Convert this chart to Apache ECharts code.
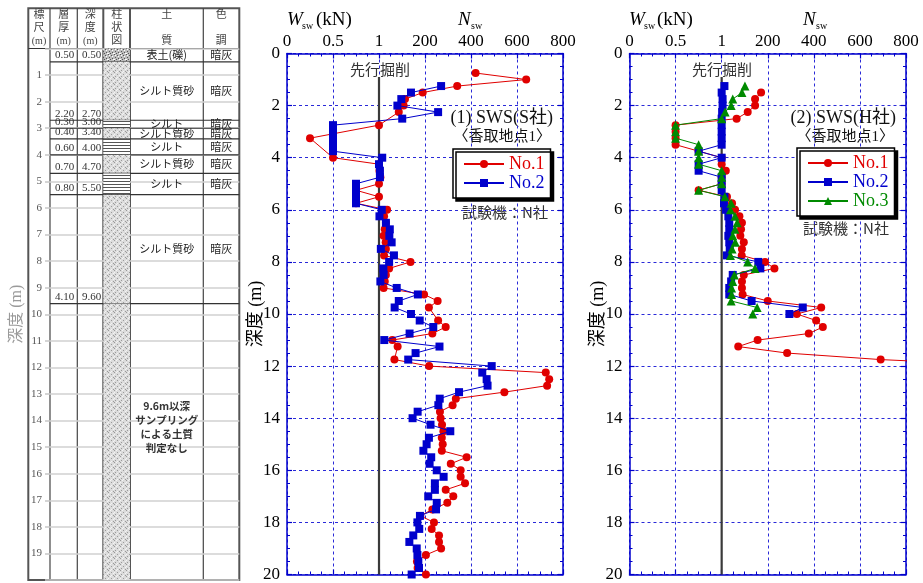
<!DOCTYPE html>
<html><head><meta charset="utf-8">
<script src="https://cdn.jsdelivr.net/npm/echarts@6/dist/echarts.min.js"></script>
<style>html,body{margin:0;padding:0;background:#fff}#c{width:923px;height:583px}</style>
</head><body><div id="c"></div>
<script>
// ---------------- DATA ----------------
// SWS rows: [depth (m), Wsw (kN), Nsw]; Wsw<1 => penetration under static load, else Nsw (half-turns/m)
const xTickLabels = ['0', '0.5', '1', '200', '400', '600', '800'];
const depthTicks = [0, 2, 4, 6, 8, 10, 12, 14, 16, 18, 20];

const S_No1 = [[0.75,1,420],[1.0,1,640],[1.25,1,340],[1.5,1,190],[1.75,1,113],[2.0,1,107],[2.25,1,86],[2.75,1,0],[3.25,0.25,0],[4.0,0.5,0],[4.25,1,0],[4.5,1,2],[4.75,1,6],[5.0,1,0],[5.25,0.75,0],[5.5,1,0],[5.75,0.75,0],[6.0,1,35],[6.25,1,22],[6.5,1,30],[6.75,1,25],[7.0,1,20],[7.25,1,29],[7.5,1,30],[7.75,1,22],[8.0,1,137],[8.25,1,44],[8.5,1,30],[8.75,1,25],[9.0,1,20],[9.25,1,196],[9.5,1,255],[9.75,1,217],[10.25,1,257],[10.5,1,290],[10.75,1,232],[11.0,1,58],[11.25,1,81],[11.75,1,67],[12.0,1,218],[12.25,1,725],[12.5,1,740],[12.75,1,731],[13.0,1,545],[13.25,1,334],[13.5,1,320],[13.75,1,265],[14.0,1,268],[14.25,1,274],[14.5,1,280],[14.75,1,273],[15.0,1,277],[15.25,1,273],[15.5,1,381],[15.75,1,312],[16.0,1,355],[16.25,1,355],[16.5,1,374],[16.75,1,290],[17.0,1,323],[17.25,1,297],[17.5,1,232],[17.75,1,180],[18.0,1,239],[18.25,1,229],[18.5,1,261],[18.75,1,261],[19.0,1,270],[19.25,1,204],[19.5,1,165],[19.75,1,168],[20.0,1,204]];
const S_No2 = [[1.25,1,270],[1.5,1,139],[1.75,1,97],[2.0,1,80],[2.25,1,257],[2.5,1,101],[2.75,0.5,0],[3.0,0.5,0],[3.25,0.5,0],[3.5,0.5,0],[3.75,0.5,0],[4.0,1,14],[4.25,1,0],[4.5,1,4],[4.75,1,4],[5.0,0.75,0],[5.25,0.75,0],[5.5,0.75,0],[5.75,0.75,0],[6.0,1,12],[6.25,1,2],[6.5,1,30],[6.75,1,47],[7.0,1,45],[7.25,1,55],[7.5,1,8],[7.75,1,65],[8.0,1,44],[8.25,1,19],[8.5,1,20],[8.75,1,6],[9.0,1,77],[9.25,1,169],[9.5,1,86],[9.75,1,68],[10.0,1,139],[10.25,1,177],[10.5,1,236],[10.75,1,133],[11.0,1,23],[11.25,1,263],[11.5,1,159],[11.75,1,127],[12.0,1,490],[12.25,1,449],[12.5,1,468],[12.75,1,472],[13.0,1,348],[13.25,1,264],[13.5,1,258],[13.75,1,168],[14.0,1,146],[14.25,1,224],[14.5,1,310],[14.75,1,217],[15.0,1,207],[15.25,1,193],[15.5,1,227],[15.75,1,220],[16.0,1,251],[16.25,1,281],[16.5,1,243],[16.75,1,243],[17.0,1,214],[17.25,1,251],[17.5,1,248],[17.75,1,178],[18.0,1,167],[18.25,1,175],[18.5,1,149],[18.75,1,132],[19.0,1,164],[19.25,1,167],[19.5,1,171],[19.75,1,174],[20.0,1,142]];

const H_No1 = [[1.5,1,171],[1.75,1,145],[2.0,1,145],[2.25,1,113],[2.5,1,65],[2.75,0.5,0],[3.0,0.5,0],[3.25,0.5,0],[3.5,0.5,0],[3.75,0.75,0],[4.0,1,0],[4.25,1,0],[4.5,1,18],[4.75,1,0],[5.0,1,0],[5.25,0.75,0],[5.5,1,23],[5.75,1,45],[6.0,1,58],[6.25,1,77],[6.5,1,88],[6.75,1,84],[7.0,1,81],[7.25,1,96],[7.5,1,88],[7.75,1,87],[8.0,1,188],[8.25,1,229],[8.5,1,96],[8.75,1,88],[9.0,1,88],[9.25,1,91],[9.5,1,200],[9.75,1,432],[10.0,1,326],[10.25,1,410],[10.5,1,439],[10.75,1,378],[11.0,1,156],[11.25,1,72],[11.5,1,284],[11.75,1,690],[12.0,1,1300]];
const H_No2 = [[1.25,1,12],[1.5,1,0],[1.75,1,4],[2.0,1,4],[2.25,1,2],[2.5,1,0],[2.75,1,0],[3.0,1,0],[3.25,1,0],[3.5,1,0],[3.75,0.75,0],[4.0,1,0],[4.25,0.75,0],[4.5,0.75,0],[4.75,1,0],[5.0,1,0],[5.25,1,0],[5.5,1,12],[5.75,1,10],[6.0,1,19],[6.25,1,29],[6.5,1,33],[6.75,1,33],[7.0,1,29],[7.25,1,33],[7.5,1,35],[7.75,1,23],[8.0,1,159],[8.25,1,168],[8.5,1,48],[8.75,1,41],[9.0,1,33],[9.25,1,33],[9.5,1,130],[9.75,1,352],[10.0,1,294]];
const H_No3 = [[1.25,1,101],[1.5,1,88],[1.75,1,48],[2.0,1,41],[2.25,1,15],[2.5,1,0],[2.75,0.5,0],[3.0,0.5,0],[3.25,0.5,0],[3.5,0.75,0],[3.75,0.75,0],[4.0,0.75,0],[4.25,0.75,0],[4.5,1,0],[4.75,1,0],[5.0,1,0],[5.25,0.75,0],[5.5,1,14],[5.75,1,41],[6.0,1,38],[6.25,1,58],[6.5,1,67],[6.75,1,58],[7.0,1,48],[7.25,1,59],[7.5,1,45],[7.75,1,38],[8.0,1,113],[8.25,1,145],[8.5,1,55],[8.75,1,48],[9.0,1,43],[9.25,1,43],[9.5,1,41],[9.75,1,154],[10.0,1,135]];

const preDrillLine = [[1,0,0.9],[1,0,20]]; // Wsw=1 kN reference line, [Wsw,Nsw,depth]

// boring log
const layerTop    = [0, 0.5, 2.7, 3.0, 3.4, 4.0, 4.7, 5.5, 9.6];
const layerBottom = [0.5, 2.7, 3.0, 3.4, 4.0, 4.7, 5.5, 9.6, 20];
const layerThick  = ['0.50','2.20','0.30','0.40','0.60','0.70','0.80','4.10',''];
const layerDepth  = ['0.50','2.70','3.00','3.40','4.00','4.70','5.50','9.60',''];
const layerSoil   = ['表土(礫)','シルト質砂','シルト','シルト質砂','シルト','シルト質砂','シルト','シルト質砂','9.6m以深\nサンプリング\nによる土質\n判定なし'];
const layerColor  = ['暗灰','暗灰','暗灰','暗灰','暗灰','暗灰','暗灰','暗灰',''];
const layerPattern= ['gravel','sand','silt','sand','silt','sand','silt','sand','sand'];

// ---------------- STYLE ----------------
const RED = '#e00000', BLUE = '#0000cc', GREEN = '#008a00';
const AXIS_BLUE = '#0000cc', GRID_BLUE = '#2a2ad8';
const SERIF = "'Liberation Serif','DejaVu Serif',serif";
const JP = "'Noto Sans CJK JP',sans-serif";
const MIX = "'Liberation Serif','Noto Sans CJK JP',serif";

function makePattern(kind) {
  const c = document.createElement('canvas');
  c.width = 6; c.height = 6;
  const g = c.getContext('2d');
  if (kind === 'silt') {
    g.fillStyle = '#fff'; g.fillRect(0, 0, 6, 6);
    g.fillStyle = '#555'; g.fillRect(0, 1, 6, 1); g.fillRect(0, 4, 6, 1);
  } else if (kind === 'gravel') {
    g.fillStyle = '#bdbdbd'; g.fillRect(0, 0, 6, 6);
    g.fillStyle = '#555'; [[0,0],[3,1],[1,3],[4,4],[2,5]].forEach(p => g.fillRect(p[0], p[1], 1, 1));
    g.fillStyle = '#fff'; [[1,1],[4,2],[0,5],[5,5]].forEach(p => g.fillRect(p[0], p[1], 1, 1));
  } else {
    g.fillStyle = '#dcdcdc'; g.fillRect(0, 0, 6, 6);
    g.fillStyle = '#9a9a9a'; [[0,0],[3,2],[1,4],[5,5]].forEach(p => g.fillRect(p[0], p[1], 1, 1));
    g.fillStyle = '#f4f4f4'; [[2,0],[5,3],[0,2],[3,5]].forEach(p => g.fillRect(p[0], p[1], 1, 1));
  }
  return { image: c, repeat: 'repeat' };
}
const patterns = { sand: makePattern('sand'), silt: makePattern('silt'), gravel: makePattern('gravel') };

const toX = (w, n) => (w < 1 ? (w - 1) * 400 : n);
const toPts = rows => rows.map(r => [toX(r[1], r[2]), r[0]]);

function xAxes(gi) {
  const common = {
    type: 'value', gridIndex: gi, min: -400, max: 800, interval: 200,
    axisLine: { show: true, onZero: false, lineStyle: { color: AXIS_BLUE, width: 1.5 } },
    axisTick: { show: true, inside: true, length: 5, lineStyle: { color: AXIS_BLUE, width: 1.2 } },
    minorTick: { show: true, splitNumber: 4, length: 3, lineStyle: { color: AXIS_BLUE, width: 1 } },
    minorSplitLine: { show: false }
  };
  return [
    Object.assign({}, common, {
      position: 'top',
      axisLabel: { show: true, margin: 3, fontFamily: SERIF, fontSize: 17, color: '#000',
        formatter: v => xTickLabels[Math.round((v + 400) / 200)] },
      splitLine: { show: true, lineStyle: { color: GRID_BLUE, type: [3, 3], width: 1 } }
    }),
    Object.assign({}, common, { position: 'bottom', axisLabel: { show: false }, splitLine: { show: false } })
  ];
}
function yAxes(gi) {
  const common = {
    type: 'value', gridIndex: gi, min: depthTicks[0], max: depthTicks[depthTicks.length - 1], interval: 2, inverse: true,
    axisLine: { show: true, onZero: false, lineStyle: { color: AXIS_BLUE, width: 1.5 } },
    axisTick: { show: true, inside: true, length: 5, lineStyle: { color: AXIS_BLUE, width: 1.2 } },
    minorTick: { show: true, splitNumber: 4, length: 3, lineStyle: { color: AXIS_BLUE, width: 1 } }
  };
  return [
    Object.assign({}, common, {
      position: 'left',
      name: '深度 (m)', nameLocation: 'middle', nameRotate: 90, nameGap: 22, nameMoveOverlap: false,
      nameTextStyle: { fontFamily: MIX, fontSize: 18, color: '#000' },
      axisLabel: { show: true, margin: 7, fontFamily: SERIF, fontSize: 17, color: '#000' },
      splitLine: { show: true, lineStyle: { color: GRID_BLUE, type: [3, 3], width: 1 } }
    }),
    Object.assign({}, common, { position: 'right', axisLabel: { show: false }, splitLine: { show: false } })
  ];
}

function swsSeries(name, rows, xi, yi, color, symbol, z) {
  return {
    type: 'line', name, xAxisIndex: xi, yAxisIndex: yi, data: toPts(rows),
    symbol, symbolSize: symbol === 'triangle' ? 9 : 8, z,
    lineStyle: { color, width: 1 }, itemStyle: { color, borderWidth: 0 },
    animation: false, clip: true
  };
}
function refLine(xi, yi) {
  return {
    type: 'line', name: 'ref', xAxisIndex: xi, yAxisIndex: yi, data: toPts(preDrillLine.map(r => [r[2], r[0], r[1]])),
    symbol: 'none', lineStyle: { color: '#3a3a3a', width: 2.2 }, z: 1, silent: true, animation: false
  };
}

// boring log column edges (fractions of log grid width)
const colFr = [0, 27.3 / 189.3, 53.3 / 189.3, 80 / 189.3, 153.3 / 189.3, 1];

function renderLayer(params, api) {
  const i = api.value(3);
  const yT = api.coord([0, api.value(1)])[1];
  const yB = api.coord([0, api.value(2)])[1];
  const cs = params.coordSys;
  const X = k => cs.x + colFr[k] * cs.width;
  const ch = [];
  ch.push({ type: 'rect', shape: { x: X(2), y: yT, width: X(3) - X(2), height: yB - yT },
    style: { fill: patterns[layerPattern[i]] } });
  if (i < layerTop.length - 1) {
    ch.push({ type: 'line', shape: { x1: X(0), y1: yB, x2: X(5), y2: yB }, style: { stroke: '#333', lineWidth: 1.2 } });
    ch.push({ type: 'text', x: X(1) - 3, y: yB - 1, style: { text: layerThick[i], font: '11px ' + SERIF, fill: '#333', align: 'right', verticalAlign: 'bottom' } });
    ch.push({ type: 'text', x: X(2) - 2, y: yB - 1, style: { text: layerDepth[i], font: '11px ' + SERIF, fill: '#333', align: 'right', verticalAlign: 'bottom' } });
    ch.push({ type: 'text', x: (X(3) + X(4)) / 2, y: (yT + yB) / 2, style: { text: layerSoil[i], font: '11px ' + JP, fill: '#222', align: 'center', verticalAlign: 'middle' } });
    ch.push({ type: 'text', x: (X(4) + X(5)) / 2, y: (yT + yB) / 2, style: { text: layerColor[i], font: '11px ' + JP, fill: '#222', align: 'center', verticalAlign: 'middle' } });
  } else {
    ch.push({ type: 'text', x: (X(3) + X(4)) / 2, y: yT + 95, style: { text: layerSoil[i], font: 'bold 10.5px ' + JP, fill: '#333', align: 'center', verticalAlign: 'top', lineHeight: 14 } });
  }
  return { type: 'group', children: ch };
}

// ---------------- CHART ----------------
const chart = echarts.init(document.getElementById('c'), null, { renderer: 'canvas' });

const T = (x, y, text, font, fill, align, extra) => Object.assign({ type: 'text', x, y, silent: true,
  style: { text, font, fill: fill || '#000', align: align || 'left', verticalAlign: 'middle' } }, extra || {});
const L = (x1, y1, x2, y2, stroke, w) => ({ type: 'line', silent: true, shape: { x1, y1, x2, y2 }, style: { stroke, lineWidth: w } });

const hdrFont = '11px ' + MIX;
const graphics = [
  // boring log frame & header
  { type: 'rect', silent: true, shape: { x: 28.3, y: 8.3, width: 211, height: 571.7 }, style: { fill: 'none', stroke: '#555', lineWidth: 2 } },
  L(28.3, 48.5, 239.3, 48.5, '#333', 1.2),
  L(50, 8.3, 50, 580, '#444', 1.2), L(77.3, 8.3, 77.3, 580, '#444', 1.2),
  L(103.3, 8.3, 103.3, 580, '#555', 2), L(130, 8.3, 130, 580, '#555', 2), L(203.3, 8.3, 203.3, 580, '#444', 1.2),
  T(39, 15, '標', hdrFont, '#444', 'center'), T(39, 28, '尺', hdrFont, '#444', 'center'), T(39, 41, '(m)', '10px ' + SERIF, '#444', 'center'),
  T(63.7, 15, '層', hdrFont, '#444', 'center'), T(63.7, 28, '厚', hdrFont, '#444', 'center'), T(63.7, 41, '(m)', '10px ' + SERIF, '#444', 'center'),
  T(90.3, 15, '深', hdrFont, '#444', 'center'), T(90.3, 28, '度', hdrFont, '#444', 'center'), T(90.3, 41, '(m)', '10px ' + SERIF, '#444', 'center'),
  T(116.7, 15, '柱', hdrFont, '#444', 'center'), T(116.7, 28, '状', hdrFont, '#444', 'center'), T(116.7, 41, '図', hdrFont, '#444', 'center'),
  T(166.7, 15, '土', hdrFont, '#444', 'center'), T(166.7, 41, '質', hdrFont, '#444', 'center'),
  T(221.3, 15, '色', hdrFont, '#444', 'center'), T(221.3, 41, '調', hdrFont, '#444', 'center'),

  // chart 1 titles
  T(287, 20, 'W', 'italic 19px ' + SERIF), T(302, 26, 'sw', '10px ' + SERIF), T(316, 20, '(kN)', '19px ' + SERIF),
  T(458, 20, 'N', 'italic 19px ' + SERIF), T(471, 26, 'sw', '10px ' + SERIF),
  T(380, 69, '先行掘削', '15px ' + JP, '#333', 'center'),
  T(553, 118, '(1) SWS(S社)', '18px ' + MIX, '#111', 'right'),
  T(551, 137, '〈香取地点1〉', '15px ' + MIX, '#111', 'right'),
  T(505, 212, '試験機：N社', '15px ' + JP, '#333', 'center'),

  // chart 2 titles
  T(629, 20, 'W', 'italic 19px ' + SERIF), T(644, 26, 'sw', '10px ' + SERIF), T(657, 20, '(kN)', '19px ' + SERIF),
  T(803, 20, 'N', 'italic 19px ' + SERIF), T(816, 26, 'sw', '10px ' + SERIF),
  T(722, 69, '先行掘削', '15px ' + JP, '#333', 'center'),
  T(896, 118, '(2) SWS(H社)', '18px ' + MIX, '#111', 'right'),
  T(894, 137, '〈香取地点1〉', '15px ' + MIX, '#111', 'right'),
  T(846, 228, '試験機：N社', '15px ' + JP, '#333', 'center')
];

const legendCommon = {
  orient: 'vertical', itemWidth: 40, itemHeight: 10, itemGap: 1,
  padding: [6, 6, 6, 10], backgroundColor: '#fff', borderColor: '#000', borderWidth: 1.5,
  shadowColor: '#000', shadowOffsetX: 3, shadowOffsetY: 3, shadowBlur: 0,
  textStyle: { fontFamily: SERIF, fontSize: 18 }, selectedMode: false
};

const option = {
  backgroundColor: '#fff',
  animation: false,
  grid: [
    { left: 287, top: 53.5, width: 276, height: 522.5, containLabel: false },
    { left: 629.5, top: 53.5, width: 276.5, height: 522.5, containLabel: false },
    { left: 50, top: 48.5, width: 189.3, height: 531.5, containLabel: false }
  ],
  xAxis: [...xAxes(0), ...xAxes(1), { type: 'value', gridIndex: 2, min: 0, max: 1, show: false }],
  yAxis: [...yAxes(0), ...yAxes(1), {
    type: 'value', gridIndex: 2, min: 0, max: 20, interval: 1, inverse: true, position: 'left',
    name: '深度 (m)', nameLocation: 'middle', nameRotate: 90, nameGap: 25, nameMoveOverlap: false,
    nameTextStyle: { fontFamily: MIX, fontSize: 16, color: '#9a9a9a' },
    axisLine: { show: false },
    axisTick: { show: true, inside: false, length: 5, lineStyle: { color: '#c8c8c8', width: 1.5 } },
    axisLabel: { margin: 8, fontFamily: SERIF, fontSize: 11, color: '#555',
      formatter: v => (v > 0 && v < 20 ? String(v) : '') },
    splitLine: { show: true, lineStyle: { color: '#d0d0d0', width: 1.5 } }
  }],
  legend: [
    Object.assign({}, legendCommon, { left: 453, top: 149,
      data: [{ name: 'No.1', textStyle: { color: RED } }, { name: 'No.2', textStyle: { color: BLUE } }] }),
    Object.assign({}, legendCommon, { left: 797, top: 148,
      data: [{ name: 'No.1', textStyle: { color: RED } }, { name: 'No.2', textStyle: { color: BLUE } }, { name: 'No.3', textStyle: { color: GREEN } }] })
  ],
  graphic: graphics,
  series: [
    refLine(0, 0),
    swsSeries('No.1', S_No1, 0, 0, RED, 'circle', 3),
    swsSeries('No.2', S_No2, 0, 0, BLUE, 'rect', 4),
    refLine(2, 2),
    swsSeries('No.1', H_No1, 2, 2, RED, 'circle', 3),
    swsSeries('No.2', H_No2, 2, 2, BLUE, 'rect', 4),
    swsSeries('No.3', H_No3, 2, 2, GREEN, 'triangle', 5),
    {
      type: 'custom', name: 'log', xAxisIndex: 4, yAxisIndex: 4,
      data: layerTop.map((t, i) => [0.5, t, layerBottom[i], i]),
      encode: { x: 0, y: [1, 2] }, renderItem: renderLayer, silent: true, z: 2, animation: false
    }
  ]
};
chart.setOption(option);
</script></body></html>
